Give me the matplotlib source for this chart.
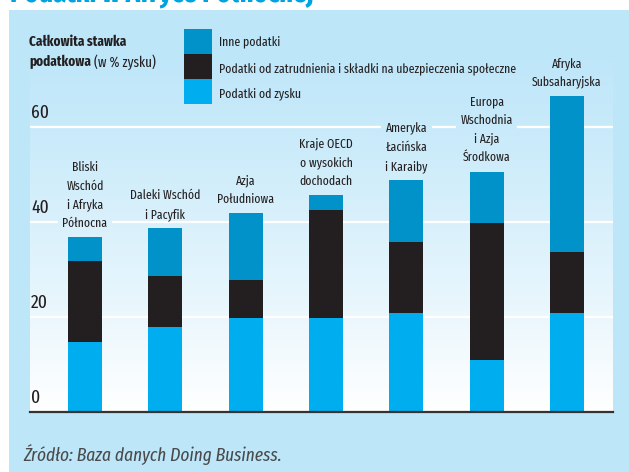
import numpy as np
import matplotlib
matplotlib.use("Agg")
import matplotlib.pyplot as plt
from matplotlib import font_manager as fm
from matplotlib.patches import Rectangle

# ---------------- data ----------------
categories = [
    "Bliski\nWschód\ni Afryka\nPółnocna",
    "Daleki Wschód\ni Pacyfik",
    "Azja\nPołudniowa",
    "Kraje OECD\no wysokich\ndochodach",
    "Ameryka\nŁacińska\ni Karaiby",
    "Europa\nWschodnia\ni Azja\nŚrodkowa",
    "Afryka\nSubsaharyjska",
]
profit_tax = [14.7, 17.8, 19.7, 19.7, 20.8, 10.9, 20.8]
labor_tax = [17.0, 10.8, 8.0, 22.8, 14.9, 28.8, 12.8]
other_tax = [5.1, 10.1, 14.1, 3.1, 13.1, 10.9, 32.9]
series_names = ["Inne podatki",
                "Podatki od zatrudnienia i składki na ubezpieczenia społeczne",
                "Podatki od zysku"]
yticks = [0, 20, 40, 60]
ylabel_bold_1 = "Całkowita stawka"
ylabel_bold_2 = "podatkowa"
ylabel_regular = " (w % zysku)"
source_text = "Źródło: Baza danych Doing Business."
title_text = "Podatki w Afryce Północnej"

# ---------------- font choice ----------------
names = {f.name for f in fm.fontManager.ttflist}
FAM = "DejaVu Sans"
for cand in ["Fira Sans Extra Condensed", "Barlow Condensed", "PT Sans Narrow",
             "Asap Condensed", "Fira Sans Condensed", "Roboto Condensed",
             "Archivo Narrow", "Liberation Sans Narrow"]:
    if cand in names:
        FAM = cand
        break
plt.rcParams["font.family"] = [FAM, "DejaVu Sans"]

C_OTHER = "#0092c8"
C_LABOR = "#231f20"
C_PROFIT = "#00aeef"
PANEL = "#bde6f9"
TXT = "#231f20"

W, H = 629, 472
fig = plt.figure(figsize=(W / 100, H / 100), dpi=100, facecolor="white")
renderer = fig.canvas.get_renderer()


def fx(x):
    return x / W


def fy(y):
    return 1 - y / H


def fit_size(s, target_px, **kw):
    t = fig.text(0, 0, s, fontsize=10, **kw)
    w = t.get_window_extent(renderer=renderer).width
    t.remove()
    return 10 * target_px / w


FS_LEG = fit_size(series_names[1], 296)
FS_CAT = fit_size("Daleki Wschód", 70)
FS_YL = fit_size(ylabel_bold_1, 97, fontweight="bold")
FS_SRC = fit_size(source_text, 259, style="italic")
FS_TICK = fit_size("60", 18)
FS_TITLE = fit_size(title_text, 305, fontweight="bold")

# background panel
fig.patches.append(Rectangle((fx(9), 0), 1 - fx(9), fy(10), transform=fig.transFigure,
                             facecolor=PANEL, edgecolor="none", zorder=-10))

# axes
ax_l, ax_r, ax_b, ax_t = 30, 613, 412, 12
ax = fig.add_axes([fx(ax_l), fy(ax_b), fx(ax_r) - fx(ax_l), fy(ax_t) - fy(ax_b)])
px_per_unit = 4.75
ymax = (ax_b - ax_t) / px_per_unit
spacing = 80.3
xl = -(85 - ax_l) / spacing
xr = 6 + (ax_r - 567) / spacing
ax.set_xlim(xl, xr)
ax.set_ylim(0, ymax)
ax.set_facecolor("none")
for s in ["top", "left", "right"]:
    ax.spines[s].set_visible(False)
ax.spines["bottom"].set_color("#333333")
ax.spines["bottom"].set_linewidth(1.6)
ax.spines["bottom"].set_zorder(5)
ax.set_xticks([])
ax.set_yticks([])

# gradient background inside axes
top_rgb = np.array(matplotlib.colors.to_rgb(PANEL))
bot_rgb = np.array([1.0, 1.0, 1.0])
g0 = 40


def grad_color(ypix):
    t = np.clip((ypix - g0) / (ax_b - g0), 0, 1)
    t = t ** 1.2
    return top_rgb * (1 - t) + bot_rgb * t


ys = np.linspace(ax_t, ax_b, 400)
img = np.array([grad_color(y) for y in ys])[:, None, :]
ax.imshow(img, extent=[xl, xr, 0, ymax], aspect="auto", origin="upper", zorder=0)

# tick labels
for v in yticks:
    ypix = ax_b - v * px_per_unit - 14
    fig.text(fx(31), fy(ypix), str(v), ha="left", va="center", fontsize=FS_TICK, color=TXT)

# bars
x = np.arange(len(categories))
bw = 34 / spacing
p = np.array(profit_tax)
l = np.array(labor_tax)
o = np.array(other_tax)
ax.bar(x, p, bw, color=C_PROFIT, zorder=3)
ax.bar(x, l, bw, bottom=p, color=C_LABOR, zorder=3)
ax.bar(x, o, bw, bottom=p + l, color=C_OTHER, zorder=3)

# category labels
totals = p + l + o
cat_texts = []
for xi, tot, lab in zip(x, totals, categories):
    t = ax.annotate(lab, (xi, tot), xytext=(0, 7.5), textcoords="offset points",
                    ha="center", va="baseline", fontsize=FS_CAT, color=TXT,
                    linespacing=1.6, annotation_clip=False, zorder=4)
    cat_texts.append(t)

# gridlines, interrupted where a category label crosses them
fig.canvas.draw()
boxes = [t.get_window_extent(renderer=renderer) for t in cat_texts]
inv = ax.transData.inverted()
for v in yticks[1:]:
    yd = ax.transData.transform((0, v))[1]
    gaps = []
    for b in boxes:
        if b.y0 - 0.5 <= yd <= b.y1 + 0.5:
            x0 = inv.transform((b.x0 - 4, yd))[0]
            x1 = inv.transform((b.x1 + 4, yd))[0]
            gaps.append((x0, x1))
    gaps.sort()
    start = xl
    for g0_, g1_ in gaps:
        if g0_ > start:
            ax.plot([start, g0_], [v, v], color="white", lw=1.6, zorder=1,
                    solid_capstyle="butt")
        start = max(start, g1_)
    if start < xr:
        ax.plot([start, xr], [v, v], color="white", lw=1.6, zorder=1, solid_capstyle="butt")

# legend
cols = [C_OTHER, C_LABOR, C_PROFIT]
tys = [41.7, 68.5, 94]
for i, (c, name) in enumerate(zip(cols, series_names)):
    y0 = 29 + 25 * i
    fig.patches.append(Rectangle((fx(184), fy(y0 + 25)), fx(212) - fx(184), 25 / H,
                                 transform=fig.transFigure, facecolor=c, edgecolor="none"))
    fig.text(fx(219), fy(tys[i]), name, ha="left", va="center", fontsize=FS_LEG, color=TXT)

# y label
fig.text(fx(29), fy(42), ylabel_bold_1, ha="left", va="center", fontsize=FS_YL,
         fontweight="bold", color=TXT)
t2 = fig.text(fx(29), fy(62), ylabel_bold_2, ha="left", va="center", fontsize=FS_YL,
              fontweight="bold", color=TXT)
bb = t2.get_window_extent(renderer=renderer)
fig.text(bb.x1 / W, fy(62), ylabel_regular, ha="left", va="center", fontsize=FS_YL, color=TXT)

# source
fig.text(fx(23), fy(455), source_text, ha="left", va="center", fontsize=FS_SRC,
         style="italic", color="#4a4a4a")

# clipped title at top
fig.text(fx(10), fy(3), title_text, ha="left", va="baseline", fontsize=FS_TITLE,
         fontweight="bold", color="#00a3e0")

fig.savefig("out.png", dpi=100, facecolor="white")
